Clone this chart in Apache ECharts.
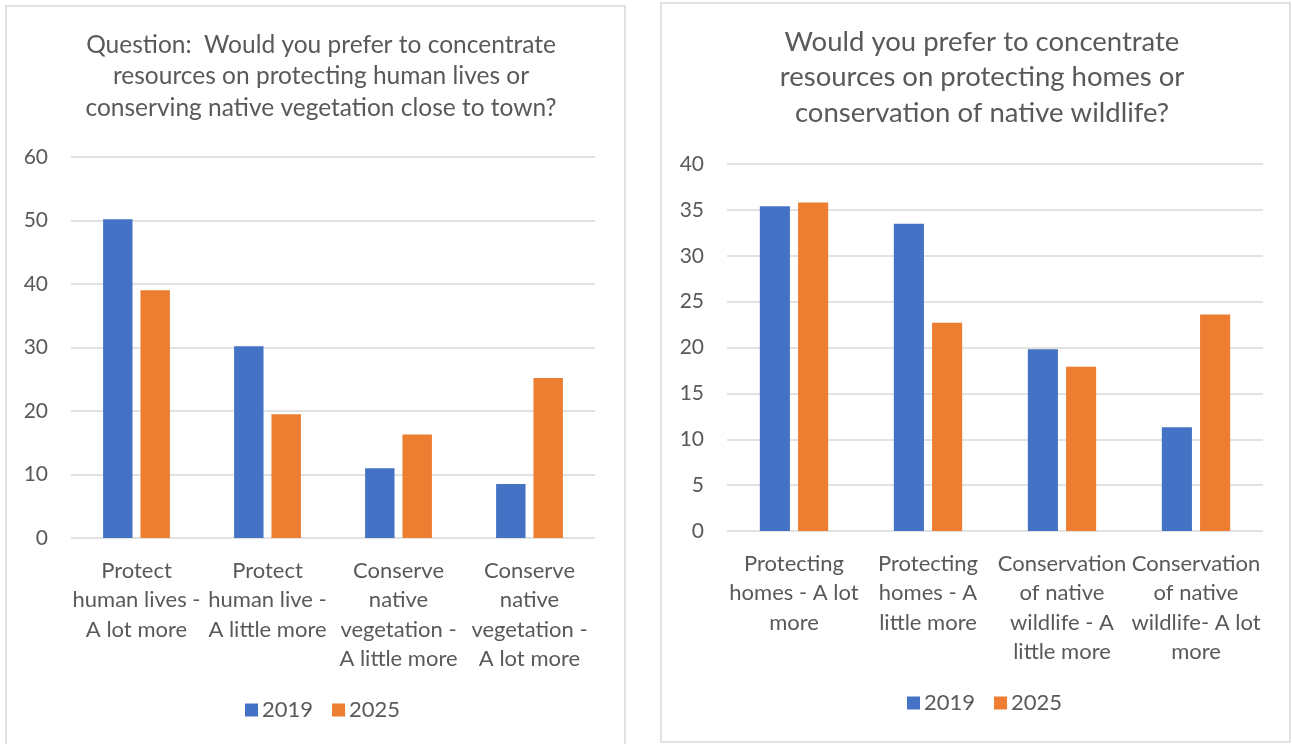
<!DOCTYPE html>
<html>
<head>
<meta charset="utf-8">
<script src="https://cdn.jsdelivr.net/npm/echarts@6/dist/echarts.min.js"></script>
<style>
  html, body { margin: 0; padding: 0; background: #fff; }
  #chart { width: 1292px; height: 744px; }
</style>
</head>
<body>
<div id="chart"></div>
<script>
// Survey: where to concentrate resources (percent of respondents)
const seriesNames = ['2019', '2025'];

const livesTitle = 'Question:  Would you prefer to concentrate\nresources on protecting human lives or\nconserving native vegetation close to town?';
const livesCategories = [
  'Protect\nhuman lives -\nA lot more',
  'Protect\nhuman live -\nA little more',
  'Conserve\nnative\nvegetation -\nA little more',
  'Conserve\nnative\nvegetation -\nA lot more'
];
const lives2019 = [50.2, 30.2, 11.0, 8.5];
const lives2025 = [39.0, 19.5, 16.3, 25.2];
const livesTicks = { min: 0, max: 60, interval: 10 };

const homesTitle = 'Would you prefer to concentrate\nresources on protecting homes or\nconservation of native wildlife?';
const homesCategories = [
  'Protecting\nhomes - A lot\nmore',
  'Protecting\nhomes - A\nlittle more',
  'Conservation\nof native\nwildlife - A\nlittle more',
  'Conservation\nof native\nwildlife- A lot\nmore'
];
const homes2019 = [35.4, 33.5, 19.8, 11.3];
const homes2025 = [35.8, 22.7, 17.9, 23.6];
const homesTicks = { min: 0, max: 40, interval: 5 };

const FONT = 'Lato';
const TEXT = '#595959';
const GRID_LINE = '#d9d9d9';
const COLORS = ['#4472C4', '#ED7D31'];

const chart = echarts.init(document.getElementById('chart'), null, { renderer: 'canvas' });

function catAxis(idx, cats, size, lh) {
  return {
    type: 'category', gridIndex: idx, data: cats,
    axisLine: { show: false }, axisTick: { show: false },
    axisLabel: {
      color: TEXT, fontFamily: FONT, fontSize: size, lineHeight: lh,
      margin: 18, interval: 0, align: 'center', verticalAlign: 'top'
    }
  };
}
function valAxis(idx, ticks, size) {
  return {
    type: 'value', gridIndex: idx, min: ticks.min, max: ticks.max, interval: ticks.interval,
    axisLine: { show: false }, axisTick: { show: false },
    splitLine: { lineStyle: { color: GRID_LINE, width: 1.5 } },
    axisLabel: { color: TEXT, fontFamily: FONT, fontSize: size, margin: 23 }
  };
}
function bars(name, data, idx, color) {
  return {
    name, type: 'bar', data, xAxisIndex: idx, yAxisIndex: idx,
    barGap: '27%', barCategoryGap: '49%',
    itemStyle: { color },
    emphasis: { disabled: true }
  };
}
function legendAt(left, top) {
  return {
    data: seriesNames.map((n, i) => ({ name: n, itemStyle: { color: COLORS[i] } })),
    left, top, padding: 0, itemWidth: 13, itemHeight: 13, itemGap: 19,
    textStyle: { color: TEXT, fontFamily: FONT, fontSize: 22, padding: [0, 0, 0, -1] },
    icon: 'rect', selectedMode: false
  };
}

chart.setOption({
  animation: false,
  textStyle: { fontFamily: FONT },
  title: [
    { text: livesTitle, left: 316, top: 24, textAlign: 'center',
      textStyle: { color: TEXT, fontFamily: FONT, fontWeight: 'normal', fontSize: 24.5, lineHeight: 31.5, align: 'center' } },
    { text: homesTitle, left: 977, top: 19, textAlign: 'center',
      textStyle: { color: TEXT, fontFamily: FONT, fontWeight: 'normal', fontSize: 27.5, lineHeight: 35.5, align: 'center' } }
  ],
  legend: [legendAt(245, 699), legendAt(907, 692)],
  grid: [
    { left: 71, right: 1292 - 595, top: 157, bottom: 744 - 538 },
    { left: 727, right: 1292 - 1263, top: 164, bottom: 744 - 531 }
  ],
  xAxis: [catAxis(0, livesCategories, 22, 29.5), catAxis(1, homesCategories, 22, 29.5)],
  yAxis: [valAxis(0, livesTicks, 21), valAxis(1, homesTicks, 21)],
  series: [
    bars('2019', lives2019, 0, COLORS[0]),
    bars('2025', lives2025, 0, COLORS[1]),
    bars('2019', homes2019, 1, COLORS[0]),
    bars('2025', homes2025, 1, COLORS[1])
  ],
  graphic: [
    { type: 'rect', shape: { x: 6, y: 6, width: 619, height: 760 },
      style: { fill: null, stroke: GRID_LINE, lineWidth: 1.5 }, silent: true },
    { type: 'rect', shape: { x: 661, y: 3, width: 629, height: 739 },
      style: { fill: null, stroke: GRID_LINE, lineWidth: 1.5 }, silent: true }
  ]
});
</script>
</body>
</html>
